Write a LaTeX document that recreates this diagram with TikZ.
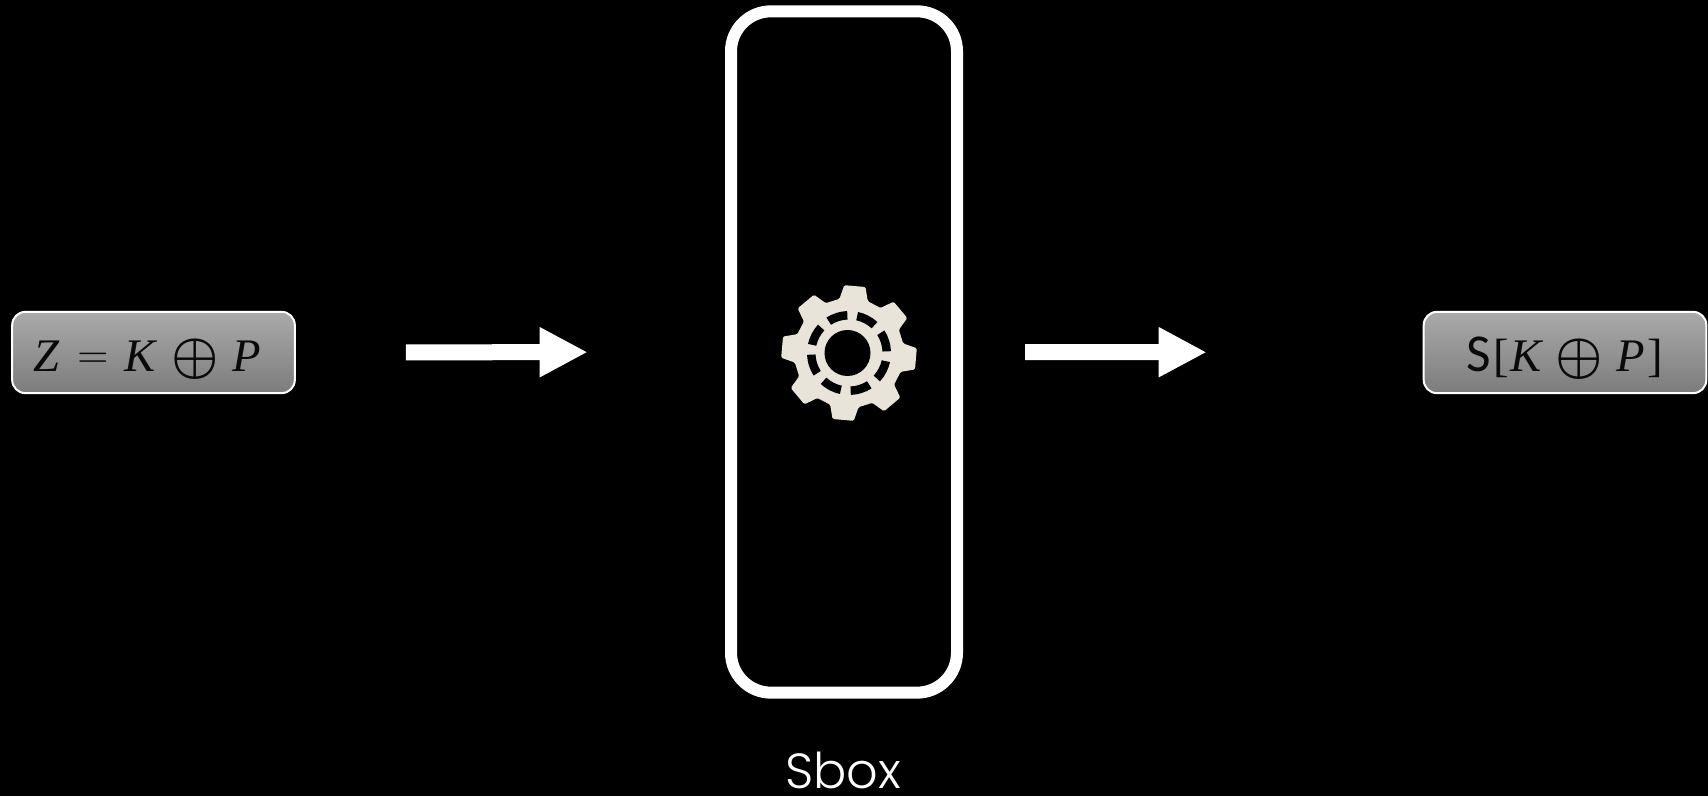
\documentclass[tikz,border=0pt]{standalone}
\usepackage{fontspec}
\setmainfont{Liberation Serif}
\newfontfamily\labelfont{Poppins}[UprightFont=* Light]
\newfontfamily\sfont{Carlito}
\usepackage{xcolor}
\definecolor{boxtop}{RGB}{170,170,170}
\definecolor{boxbot}{RGB}{124,124,124}
\definecolor{ink}{RGB}{10,10,10}
\definecolor{cog}{RGB}{232,228,218}
\usetikzlibrary{arrows.meta,positioning,calc}
\tikzset{
  formulabox/.style={draw=white,line width=1.5pt,rounded corners=10pt,
    top color=boxtop,bottom color=boxbot,minimum width=212pt,minimum height=61pt,
    inner sep=0pt,text=ink,font=\fontsize{35}{35}\selectfont},
  cipherbox/.style={draw=white,line width=9pt,rounded corners=30pt,
    minimum width=169.5pt,minimum height=511pt},
  flowarrow/.style={draw=white,line width=12pt,
    -{Triangle[length=36pt,width=35pt]}},
}
\newcommand{\xorsign}{\raisebox{-0.3pt}{\scalebox{1.6}{\boldmath$\oplus$}}}
\newcommand{\eqsign}{\raisebox{2.3pt}{\scalebox{1.3}{$=$}}}
\newcommand{\setformula}[1]{\smash{\raisebox{-14.4pt}{#1}}}
\begin{document}
\begin{tikzpicture}[x=0.75pt,y=0.75pt]
\useasboundingbox (0,0) rectangle (1708,796);
\fill[black] (0,0) rectangle (1708,796);
%% boxes
\node[formulabox] (zbox) at (153.5,443.5)
  {\setformula{\textit{Z}\hspace{13.3pt}\eqsign\hspace{11.8pt}\textit{K}\hspace{10.5pt}\xorsign\hspace{10.5pt}\textit{P}\hspace{9.4pt}}};
\node[cipherbox] (sbox) at (844,444) {};
\node[formulabox] (outbox) at (1565,443.5)
  {\setformula{{\sfont\fontsize{40}{40}\selectfont S}\hspace{1.5pt}[\hspace{1.5pt}\textit{K}\hspace{9pt}\xorsign\hspace{10pt}\textit{P}\hspace{2pt}]}};
\node[font=\labelfont\fontsize{37}{37}\selectfont,text=white,anchor=base,inner sep=0pt] (sboxlabel) at (843,8) {Sbox};
%% arrows
\draw[flowarrow,shorten <=82.5pt,shorten >=103pt] (zbox) -- (sbox);
\draw[flowarrow,shorten <=46.5pt,shorten >=162pt] (sbox) -- (outbox);
%% gear
\begin{scope}[shift={(849,443)}]
  \fill[cog,rounded corners=1pt] (85-15:55) \foreach \a in {85,130,...,400}{
      -- (\a-15:55) -- (\a-9:68) -- (\a+9:68) -- (\a+15:55)
    } -- cycle;
  \foreach \a [evaluate=\a as \b using \a+7.5, evaluate=\a as \c using \a+37.5] in {85,130,...,400}{
    \fill[black] (\b:33.5) arc[start angle=\b,end angle=\c,radius=33.5]
      -- (\c:42) arc[start angle=\c,end angle=\b,radius=42] -- cycle;
  }
  \fill[black] (-1.5,0) circle (23);
\end{scope}
\end{tikzpicture}
\end{document}
